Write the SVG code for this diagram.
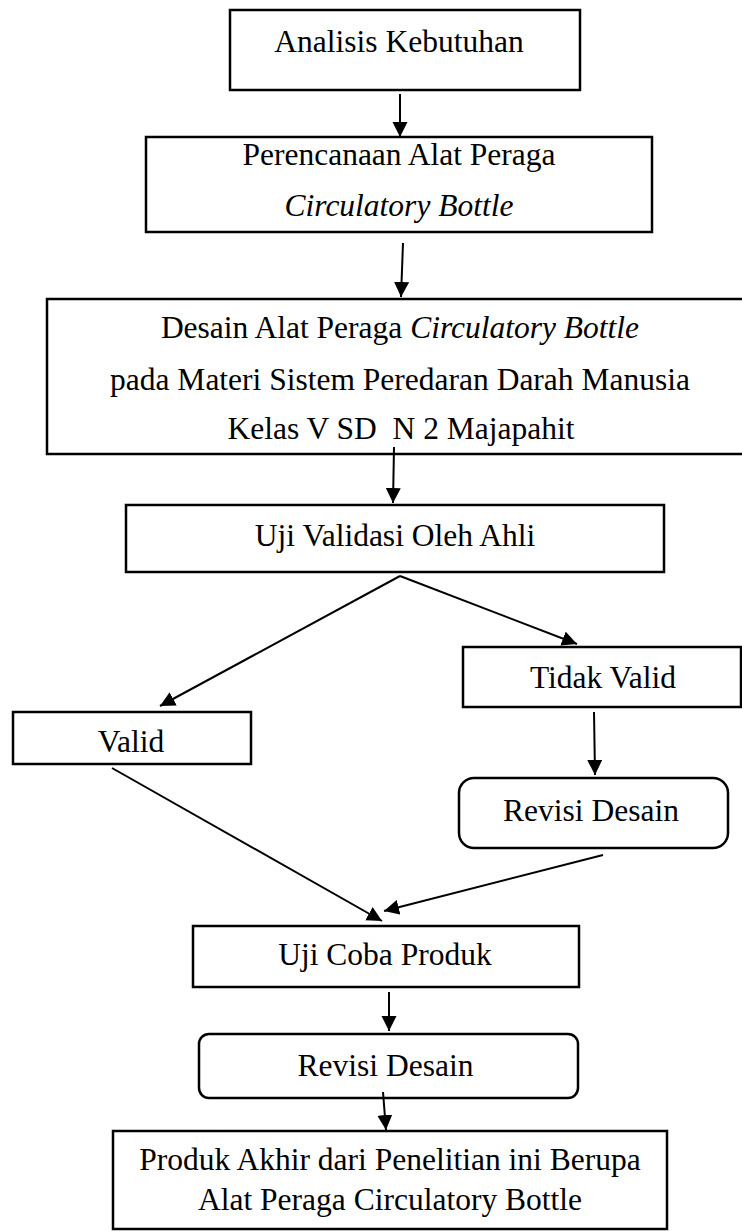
<svg xmlns="http://www.w3.org/2000/svg" width="742" height="1231" viewBox="0 0 742 1231">
<style>
.box{fill:#fff;stroke:#000;stroke-width:2.5}
.t{font-family:"Liberation Serif","Times New Roman",serif;font-size:31.5px;fill:#000;text-anchor:middle}
.i{font-style:italic}
.c{stroke:#000;stroke-width:2;fill:none;marker-end:url(#ah)}
</style>
<defs>
<marker id="ah" markerUnits="userSpaceOnUse" markerWidth="16" markerHeight="16" refX="15" refY="7.5" orient="auto">
<path d="M0,0 L15,7.5 L0,15 z" fill="#000"/>
</marker>
</defs>
<rect width="742" height="1231" fill="#fff"/>
<g id="n1"><rect class="box" x="230" y="10" width="350" height="80"/><text class="t" x="399" y="52">Analisis Kebutuhan</text></g>
<g id="n2"><rect class="box" x="146" y="137" width="506" height="95"/><text class="t" x="399" y="165">Perencanaan Alat Peraga</text><text class="t i" x="399" y="216">Circulatory Bottle</text></g>
<g id="n3"><rect class="box" x="47" y="299" width="710" height="155"/><text class="t" x="400" y="338">Desain Alat Peraga <tspan class="i">Circulatory Bottle</tspan></text><text class="t" x="400" y="390">pada Materi Sistem Peredaran Darah Manusia</text><text class="t" x="401" y="439" style="white-space:pre">Kelas V SD  N 2 Majapahit</text></g>
<g id="n4"><rect class="box" x="126" y="505" width="538" height="67"/><text class="t" x="395" y="546">Uji Validasi Oleh Ahli</text></g>
<g id="n5"><rect class="box" x="13" y="712" width="238" height="52"/><text class="t" x="131" y="752">Valid</text></g>
<g id="n6"><rect class="box" x="463" y="647" width="278" height="60"/><text class="t" x="603" y="688">Tidak Valid</text></g>
<g id="n7"><rect class="box" x="459" y="778" width="269" height="70" rx="15"/><text class="t" x="591" y="821">Revisi Desain</text></g>
<g id="n8"><rect class="box" x="193" y="926" width="386" height="61"/><text class="t" x="385" y="965">Uji Coba Produk</text></g>
<g id="n9"><rect class="box" x="199" y="1034" width="379" height="64" rx="10"/><text class="t" x="385.5" y="1076">Revisi Desain</text></g>
<g id="n10"><rect class="box" x="113" y="1131" width="554" height="98"/><text class="t" x="390" y="1170">Produk Akhir dari Penelitian ini Berupa</text><text class="t" x="390" y="1210">Alat Peraga Circulatory Bottle</text></g>
<g id="connectors">
<line class="c" x1="400" y1="94" x2="400" y2="137"/>
<line class="c" x1="403" y1="243" x2="401" y2="297"/>
<line class="c" x1="394" y1="447" x2="393" y2="503"/>
<line class="c" x1="400" y1="576" x2="160" y2="706"/>
<line class="c" x1="400" y1="576" x2="577" y2="644"/>
<line class="c" x1="594" y1="712" x2="595" y2="775"/>
<line class="c" x1="112" y1="768" x2="382" y2="921"/>
<line class="c" x1="603" y1="855" x2="384" y2="911"/>
<line class="c" x1="389" y1="992" x2="389" y2="1031"/>
<line class="c" x1="383" y1="1092" x2="386" y2="1130"/>
</g>
</svg>
